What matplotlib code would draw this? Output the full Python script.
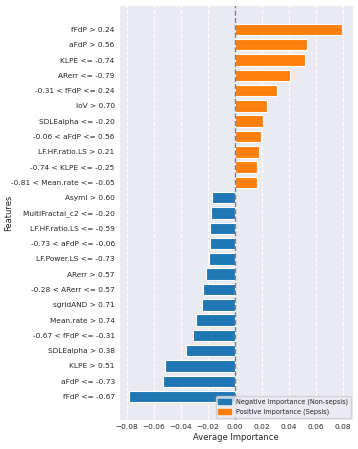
import numpy as np
import matplotlib
matplotlib.use("Agg")
from matplotlib import pyplot as plt
import seaborn as sns

sns.set_style("darkgrid")

# features from top to bottom
features = [
    "fFdP > 0.24", "aFdP > 0.56", "KLPE <= -0.74", "ARerr <= -0.79",
    "-0.31 < fFdP <= 0.24", "IoV > 0.70", "SDLEalpha <= -0.20",
    "-0.06 < aFdP <= 0.56", "LF.HF.ratio.LS > 0.21", "-0.74 < KLPE <= -0.25",
    "-0.81 < Mean.rate <= -0.05", "Asyml > 0.60", "MultiFractal_c2 <= -0.20",
    "LF.HF.ratio.LS <= -0.59", "-0.73 < aFdP <= -0.06", "LF.Power.LS <= -0.73",
    "ARerr > 0.57", "-0.28 < ARerr <= 0.57", "sgridAND > 0.71",
    "Mean.rate > 0.74", "-0.67 < fFdP <= -0.31", "SDLEalpha > 0.38",
    "KLPE > 0.51", "aFdP <= -0.73", "fFdP <= -0.67",
]
importance = [
    0.079, 0.053, 0.052, 0.041, 0.031, 0.024, 0.0205, 0.019, 0.0175, 0.0163,
    0.016, -0.0173, -0.0178, -0.0183, -0.0185, -0.0193, -0.0217, -0.0235,
    -0.0244, -0.0289, -0.0309, -0.0363, -0.0519, -0.0536, -0.0783,
]

imp = np.array(importance)
y = np.arange(len(features))[::-1]
colors = np.where(imp < 0, "#1f77b4", "#ff7f0e")

fig, ax = plt.subplots(figsize=(3.58, 4.49), dpi=100)
ax.barh(y, imp, height=0.75, color=colors, edgecolor="white", linewidth=0.8)
ax.axvline(0, color="gray", linestyle="--", linewidth=1)

ax.set_yticks(y)
ax.set_yticklabels(features)
ax.grid(axis="y", visible=False)
ax.grid(axis="x", linestyle="--")
ax.set_xlim(-0.086, 0.0874)
ax.set_ylim(-1.52, 25.6)
ax.set_xticks(np.arange(-0.08, 0.081, 0.02))
ax.tick_params(labelsize=5.3, length=0, pad=3)
ax.set_xlabel("Average Importance", fontsize=6, labelpad=2)
ax.set_ylabel("Features", fontsize=6)
ax.yaxis.set_label_coords(-0.45, 0.5)

from matplotlib.patches import Patch
handles = [Patch(color="#1f77b4"), Patch(color="#ff7f0e")]
ax.legend(handles, ["Negative Importance (Non-sepsis)", "Positive Importance (Sepsis)"],
          loc="lower right", fontsize=4.7, borderaxespad=0.3)

fig.subplots_adjust(left=0.332, right=0.986, top=0.989, bottom=0.065)
plt.savefig("out.png")
